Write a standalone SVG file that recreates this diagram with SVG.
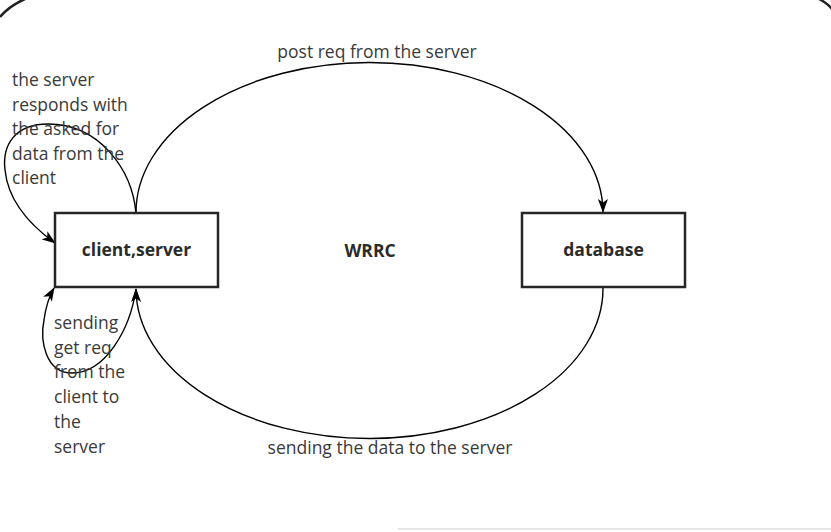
<svg xmlns="http://www.w3.org/2000/svg" width="831" height="532" viewBox="0 0 831 532">
<style>
.box{fill:#fff;stroke:#262626;stroke-width:2.5}
.bl{font-family:"Open Sans","Liberation Sans",sans-serif;font-weight:bold;font-size:17.5px;fill:#2b2b2b;text-anchor:middle}
.lb{font-family:"Open Sans","Liberation Sans",sans-serif;font-size:17.5px;fill:#3a3a3a}
.edge{fill:none;stroke:#000;stroke-width:1.4}
.frame{fill:none;stroke:#222;stroke-width:2.5}
</style>
<defs>
<marker id="ah" viewBox="0 0 14 10" markerWidth="14" markerHeight="10" refX="13" refY="5" orient="auto" markerUnits="userSpaceOnUse">
<path d="M0,0 L14,5 L0,10 L3.5,5 Z" fill="#000"/>
</marker>
</defs>
<rect width="831" height="532" fill="#fff"/>
<path class="frame" d="M0,17 Q9,6 25,-1"/>
<path class="frame" d="M819,-1 Q827,3 832,9"/>
<line x1="398" y1="529" x2="831" y2="529" stroke="#dcdcdc" stroke-width="1.5"/>
<g id="connectors">
<path class="edge" d="M136,213 A233.5,150 0 0 1 603,212" marker-end="url(#ah)"/>
<path class="edge" d="M603,288 A233.5,150 0 0 1 136,289" marker-end="url(#ah)"/>
<path class="edge" d="M136,213 C132,170 100,124 48,124 C15,124 2,145 5,170 C8,200 30,225 55,243" marker-end="url(#ah)"/>
<path class="edge" d="M136,289 C130,330 105,373 72,373 C45,373 40,340 44,320 C46,305 50,295 54,288" marker-end="url(#ah)"/>
</g>
<g id="client-server">
<rect class="box" x="55" y="213" width="163" height="74"/>
<text class="bl" x="136.5" y="256">client,server</text>
</g>
<g id="database">
<rect class="box" x="522" y="213" width="163" height="74"/>
<text class="bl" x="603.5" y="256">database</text>
</g>
<g id="wrrc">
<text class="bl" x="370" y="257">WRRC</text>
</g>
<g id="labels">
<text class="lb" x="377" y="58" text-anchor="middle">post req from the server</text>
<text class="lb" x="390" y="454" text-anchor="middle">sending the data to the server</text>
<text class="lb" x="12" y="86">the server</text>
<text class="lb" x="12" y="110.6">responds with</text>
<text class="lb" x="12" y="135.2">the asked for</text>
<text class="lb" x="12" y="159.8">data from the</text>
<text class="lb" x="12" y="184.4">client</text>
<text class="lb" x="54" y="329">sending</text>
<text class="lb" x="54" y="353.7">get req</text>
<text class="lb" x="54" y="378.4">from the</text>
<text class="lb" x="54" y="403.1">client to</text>
<text class="lb" x="54" y="427.8">the</text>
<text class="lb" x="54" y="452.5">server</text>
</g>
</svg>
